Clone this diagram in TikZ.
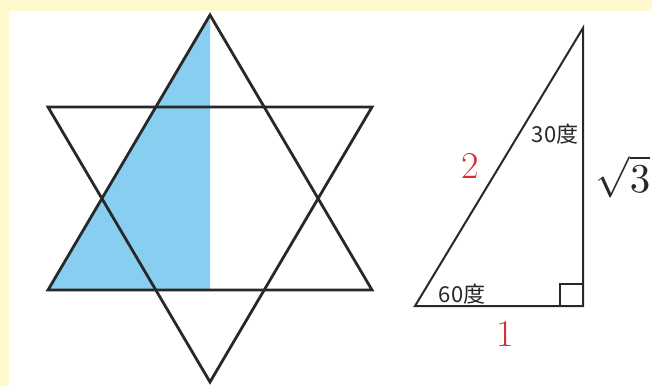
\documentclass[tikz,border=0pt]{standalone}
\usepackage{amsmath}
\usepackage{graphicx}
\usepackage{fontspec}
\newfontfamily\cjkfont{Noto Sans CJK SC}
\usetikzlibrary{calc}
\definecolor{skyfill}{RGB}{135,206,240}
\definecolor{framebg}{RGB}{253,249,205}
\definecolor{ink}{RGB}{40,40,40}
\definecolor{lblred}{RGB}{215,45,50}

\begin{document}
\begin{tikzpicture}[x=1pt, y=-1pt,
  edge/.style={ink, line width=2.8pt, line join=miter},
  leg/.style={ink, line width=2pt},
  deg/.style={font=\cjkfont\fontsize{22}{22}\selectfont, text=ink, inner sep=0pt},
  side/.style={text=lblred, font=\fontsize{38}{38}\selectfont, inner sep=0pt},
]
\useasboundingbox (0,0) rectangle (652,386);
% background
\fill[white] (0,0) rectangle (652,386);
\fill[framebg] (0,0) rectangle (652,11);
\fill[framebg] (0,0) rectangle (9,386);

% hexagram
\coordinate (top) at (210,15);
\coordinate (bl) at (48,290);
\coordinate (br) at (372,290);
\coordinate (mid) at (210,290);
\coordinate (tl) at (48,107);
\coordinate (tr) at (372,107);
\coordinate (bot) at (210,382);
\fill[skyfill] (top) -- (bl) -- (mid) -- cycle;
\draw[edge] (top) -- (bl) -- (br) -- cycle;
\draw[edge] (tl) -- (tr) -- (bot) -- cycle;

% right triangle
\coordinate (A) at (415,306);
\coordinate (B) at (583,306);
\coordinate (C) at (583,28);
\draw[leg] (A) -- (B) -- (C) -- cycle;
\draw[leg, line width=1.5pt] ($(B)+(-23,0)$) -- ++(0,-22) -- ++(23,0);

\node[deg] (a30) at (555,134) {30度};
\node[deg] (a60) at (462,294) {60度};
\node[side] (hyp) at (470,166) {2};
\node[side] (base) at (505,334) {1};
\node[text=ink, inner sep=0pt] (vert) at (623,177) {\scalebox{4.1}{$\sqrt{3}$}};
\end{tikzpicture}
\end{document}
